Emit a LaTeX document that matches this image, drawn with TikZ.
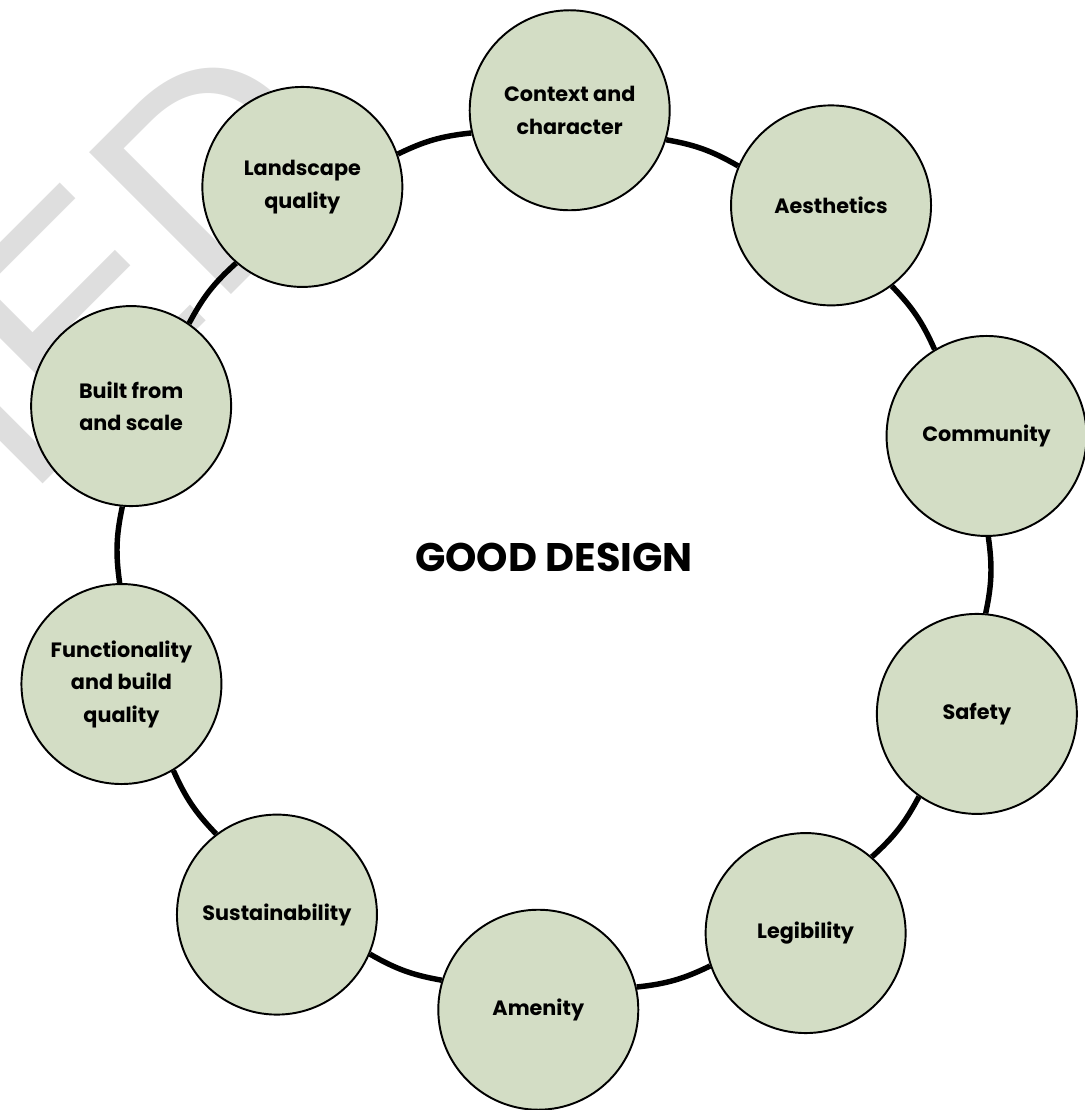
\documentclass[tikz,border=0pt]{standalone}
\usepackage{fontspec}
\setmainfont{Poppins}
\newfontfamily\markfont{Liberation Sans}
\definecolor{sage}{HTML}{D3DDC5}
\definecolor{markgray}{HTML}{DEDEDE}
\tikzset{
  topic/.style={circle, draw=black, line width=1.1pt, fill=sage, minimum size=4cm,
    inner sep=1pt, align=center, font=\bfseries\fontsize{11.8}{18.5}\selectfont},
  link/.style={line width=3.1pt, bend left=10},
}

\begin{document}
\begin{tikzpicture}
    \useasboundingbox (-11.08,-11) rectangle (10.6,11.2);

    % faint stamp behind the ring
    \begin{scope}
    \clip (-11.08,-11) rectangle (10.6,11.2);
    \node [anchor=base east, inner sep=0, rotate=45, text=markgray,
      font=\markfont\fontsize{166}{166}\selectfont] (stamp) at (-3.8,7.95) {MED};
    \end{scope}

    \node [topic] (context) at (88:9) {Context and\\character};
    \node [topic] (aesthetics) at (52:9) {Aesthetics};
    \node [topic] (community) at (16:9) {Community};
    \node [topic] (safety) at (-20:9) {Safety};
    \node [topic] (legibility) at (-56:9) {Legibility};
    \node [topic] (amenity) at (-92:9) {Amenity};
    \node [topic] (sustain) at (-128:9) {Sustainability};
    \node [topic] (function) at (-164:9) {Functionality\\and build\\quality};
    \node [topic] (builtform) at (160:9) {Built from\\and scale};
    \node [topic] (landscape) at (124:9) {Landscape\\quality};

    \node [font=\bfseries\fontsize{22.7}{26}\selectfont] (title) at (0,0.06) {GOOD DESIGN};

    % ring links, leaving each circle just outside the chord
    \draw [link] (context.-17) to (aesthetics.157);
    \draw [link] (aesthetics.-53) to (community.121);
    \draw [link] (community.-89) to (safety.85);
    \draw [link] (safety.-125) to (legibility.49);
    \draw [link] (legibility.-161) to (amenity.13);
    \draw [link] (amenity.163) to (sustain.-23);
    \draw [link] (sustain.127) to (function.-59);
    \draw [link] (function.91) to (builtform.-95);
    \draw [link] (builtform.55) to (landscape.229);
    \draw [link] (landscape.19) to (context.193);

    \end{tikzpicture}
\end{document}
